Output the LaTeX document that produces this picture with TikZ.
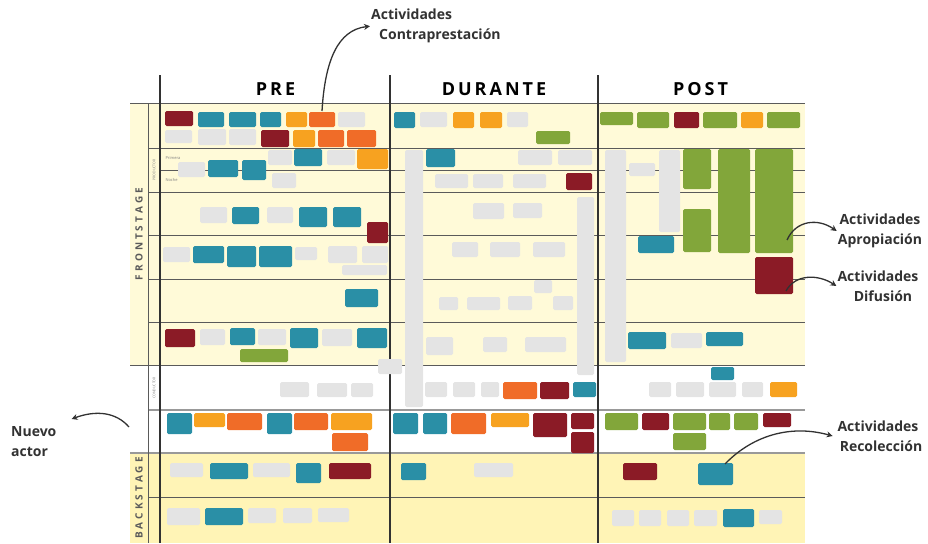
\documentclass[tikz,border=0pt]{standalone}
\usepackage{fontspec}
\setmainfont{Open Sans}
\usetikzlibrary{arrows.meta}
\definecolor{cardred}{RGB}{139,27,38}
\definecolor{cardteal}{RGB}{42,143,166}
\definecolor{cardorange}{RGB}{247,162,32}
\definecolor{carddeep}{RGB}{240,108,40}
\definecolor{cardgreen}{RGB}{130,166,58}
\definecolor{cardgray}{RGB}{228,228,228}
\definecolor{frontyellow}{RGB}{255,250,216}
\definecolor{backyellow}{RGB}{255,244,182}
\definecolor{linegray}{RGB}{90,90,90}
\definecolor{notegray}{RGB}{50,50,50}
\tikzset{
  card/.style={rounded corners=1.5pt},
  lane/.style={draw=linegray, line width=0.7pt},
  lanebold/.style={draw=gray!80, line width=1.6pt},
  column/.style={draw=notegray, line width=1.1pt},
  head/.style={font=\bfseries\fontsize{18}{20}\selectfont, text=black},
  side/.style={font=\bfseries\fontsize{10}{12}\selectfont, text=linegray, rotate=90},
  tag/.style={font=\fontsize{3.5}{4}\selectfont, text=gray, rotate=90},
  note/.style={font=\bfseries\fontsize{14}{20}\selectfont, text=notegray, inner sep=1pt},
  pointer/.style={-{Stealth[length=6pt,width=6pt]}, line width=1.3pt, draw=notegray}
}
\begin{document}
\begin{tikzpicture}[x=1pt,y=-1pt]
\useasboundingbox (0,0) rectangle (928,543);
% fondos
\fill[frontyellow] (130,103) rectangle (805,365);
\fill[backyellow] (130,453) rectangle (805,543);

% carriles
\foreach \y in {148,192,235,279,322} \draw[lane] (148,\y) -- (805,\y);
\draw[lane] (160,170) -- (805,170);
\draw[lane] (148,497) -- (805,497);
\draw[lane] (130,103) -- (805,103);
\draw[lane] (130,365) -- (805,365);
\draw[lanebold] (148,410) -- (805,410);
\draw[lanebold] (130,453) -- (805,453);
\draw[lane] (148,103) -- (148,543);
\foreach \x in {160,390,598} \draw[column] (\x,75) -- (\x,543);

% tarjetas
\foreach \xa/\ya/\xb/\yb in {165/111/193/126, 261/130/289/147, 367/222/388/243,
  165/329/195/347, 329/463/371/479, 566/173/592/190, 540/382/569/399,
  533/413/567/437, 571/413/594/429, 571/432/594/453, 674/112/699/128,
  755/257/793/294, 642/413/669/430, 763/413/791/427, 623/463/657/480}
  \fill[card, cardred] (\xa,\ya) rectangle (\xb,\yb);
\foreach \xa/\ya/\xb/\yb in {198/112/224/127, 229/112/256/127, 260/112/281/127,
  294/149/322/166, 208/160/238/177, 242/160/266/180, 232/207/259/224,
  299/207/327/227, 333/207/361/227, 193/246/224/263, 227/246/256/267,
  259/246/292/267, 345/289/378/307, 230/328/255/345, 290/328/318/348,
  357/328/387/348, 167/413/192/434, 267/413/292/434, 210/463/248/479,
  296/463/321/483, 205/508/243/525, 394/112/415/128, 426/149/455/167,
  573/382/596/397, 393/413/418/434, 423/413/447/434, 401/463/426/480,
  638/236/674/253, 628/332/666/349, 706/332/743/346, 711/367/734/380,
  698/463/733/485, 723/509/754/527}
  \fill[card, cardteal] (\xa,\ya) rectangle (\xb,\yb);
\foreach \xa/\ya/\xb/\yb in {286/112/307/127, 293/130/315/147, 357/149/388/169,
  194/413/225/427, 331/413/372/430, 453/112/474/128, 480/112/502/128,
  491/413/529/427, 741/112/763/128, 770/382/797/397}
  \fill[card, cardorange] (\xa,\ya) rectangle (\xb,\yb);
\foreach \xa/\ya/\xb/\yb in {309/112/335/127, 318/130/344/147, 347/130/376/147,
  227/413/262/430, 294/413/328/430, 332/433/368/451, 503/382/537/399,
  451/413/486/434}
  \fill[card, carddeep] (\xa,\ya) rectangle (\xb,\yb);
\foreach \xa/\ya/\xb/\yb in {240/349/288/362, 536/131/570/144, 600/112/633/125,
  637/112/669/128, 703/112/737/128, 767/112/800/128, 683/149/711/189,
  683/209/711/252, 718/149/750/253, 755/149/793/253, 605/413/638/430,
  673/413/706/430, 709/413/730/430, 734/413/758/430, 673/433/706/450}
  \fill[card, cardgreen] (\xa,\ya) rectangle (\xb,\yb);
\foreach \xa/\ya/\xb/\yb in {338/112/365/127, 165/130/192/143, 198/129/226/145,
  229/129/256/145, 268/150/292/165, 327/150/355/165, 178/162/205/177,
  272/173/296/188, 200/207/227/223, 267/207/293/223, 163/247/190/262,
  295/247/317/260, 328/246/357/263, 362/246/388/263, 342/265/387/275,
  200/329/225/345, 258/329/286/345, 322/329/352/346, 378/359/402/374,
  280/382/309/397, 317/383/347/397, 351/383/373/397, 170/463/203/477,
  253/463/290/477, 167/508/200/525, 248/508/276/523, 283/508/312/523,
  318/508/349/522, 420/112/447/127, 507/112/528/127, 518/150/552/165,
  558/150/592/165, 435/174/468/188, 473/174/503/188, 513/174/546/188,
  473/203/504/219, 513/203/542/218, 452/242/478/257, 490/242/520/257,
  533/242/565/257, 534/280/552/293, 439/297/458/310, 467/297/500/310,
  508/296/532/310, 553/296/573/310, 426/337/453/355, 483/337/507/352,
  525/337/566/352, 425/382/447/397, 453/382/475/397, 481/382/499/397,
  474/463/513/477, 629/163/655/176, 671/333/702/348, 649/382/671/397,
  676/382/704/397, 709/382/736/397, 742/382/763/397, 612/510/634/526,
  639/510/661/526, 667/510/689/526, 694/510/717/526, 759/510/782/524,
  405/150/423/407, 577/197/594/375, 605/150/626/362, 659/150/680/232}
  \fill[card, cardgray] (\xa,\ya) rectangle (\xb,\yb);

% rotulos
\node[head] (pre) at (275.5,89) {P\kern3pt R\kern3pt E};
\node[head] (durante) at (494,89) {D\kern3pt U\kern3pt R\kern3pt A\kern3pt N\kern3pt T\kern3pt E};
\node[head] (post) at (700.5,89) {P\kern3pt O\kern3pt S\kern3pt T};
\node[side] (front) at (139,234) {F\kern3pt R\kern3pt O\kern3pt N\kern3pt T\kern3pt S\kern3pt T\kern3pt A\kern3pt G\kern3pt E};
\node[side] (back) at (139,498) {B\kern3pt A\kern3pt C\kern3pt K\kern3pt S\kern3pt T\kern3pt A\kern3pt G\kern3pt E};
\node[tag] (productor) at (154,170) {PRODUCTOR};
\node[tag] (conductor) at (154,388) {CONDUCTOR};
\node[font=\fontsize{4}{5}\selectfont, text=gray, anchor=west] (primera) at (162,158) {Primera};
\node[font=\fontsize{4}{5}\selectfont, text=gray, anchor=west] (noche) at (162,180) {Noche};

% notas
\node[note, anchor=north west, align=left] (contra) at (370,8) {Actividades\\\hspace*{8pt}Contraprestación};
\node[note, align=center] (aprop) at (880,231) {Actividades\\Apropiación};
\node[note, align=center] (difus) at (878,286) {Actividades\\\hspace*{10pt}Difusión};
\node[note, align=center] (recol) at (878,436) {Actividades\\\hspace*{6pt}Recolección};
\node[note, anchor=north west, align=left] (nuevo) at (10,425) {Nuevo\\actor};

\coordinate (contra-src) at (322,111);
\coordinate (aprop-src) at (787,240);
\coordinate (difus-src) at (786,291);
\coordinate (recol-src) at (725,464);
\coordinate (nuevo-src) at (129,427);
\draw[pointer] (contra-src) .. controls (325,60) and (338,30) .. (contra.west);
\draw[pointer] (aprop-src) .. controls (796,220) and (818,218) .. (aprop.west);
\draw[pointer] (difus-src) .. controls (795,274) and (818,274) .. (difus.west);
\draw[pointer] (recol-src) .. controls (752,436) and (790,424) .. (recol.west);
\draw[pointer] (nuevo-src) .. controls (116,412) and (96,410) .. ([xshift=14pt,yshift=6pt]nuevo.north east);
\end{tikzpicture}
\end{document}
